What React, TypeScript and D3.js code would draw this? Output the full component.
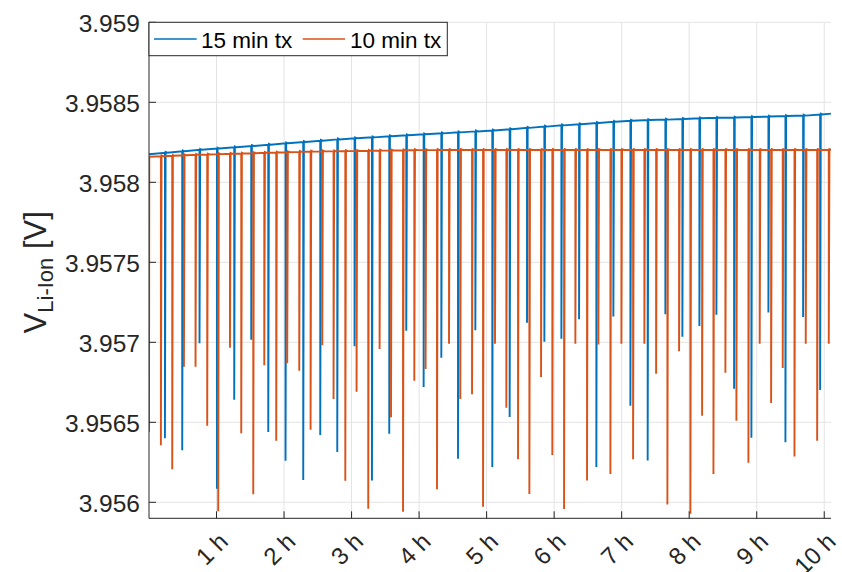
import React from "react";
import * as d3 from "d3";

// ---------- data ----------
const xTickHours = [1, 2, 3, 4, 5, 6, 7, 8, 9, 10];
const xTickLabels = ["1 h", "2 h", "3 h", "4 h", "5 h", "6 h", "7 h", "8 h", "9 h", "10 h"];
const yTicks = [3.956, 3.9565, 3.957, 3.9575, 3.958, 3.9585, 3.959];
const yTickLabels = ["3.956", "3.9565", "3.957", "3.9575", "3.958", "3.9585", "3.959"];

const seriesNames = ["15 min tx", "10 min tx"];

// 15 min tx: spike times (h), baseline level before spike (V), spike minimum (V)
const blueTimes = [0.236, 0.492, 0.748, 1.006, 1.262, 1.514, 1.766, 2.022, 2.284, 2.536, 2.788, 3.044, 3.302, 3.558, 3.810, 4.067, 4.329, 4.576, 4.833, 5.084, 5.341, 5.598, 5.855, 6.107, 6.369, 6.625, 6.877, 7.129, 7.385, 7.647, 7.899, 8.151, 8.403, 8.665, 8.921, 9.173, 9.425, 9.687, 9.939];
const blueLevels = [3.958185, 3.958194, 3.958203, 3.958211, 3.958219, 3.958227, 3.958235, 3.958244, 3.958252, 3.95826, 3.958268, 3.958275, 3.958281, 3.958288, 3.958294, 3.9583, 3.958306, 3.958312, 3.958318, 3.958324, 3.958332, 3.95834, 3.958348, 3.958356, 3.958363, 3.958371, 3.958378, 3.958385, 3.958389, 3.958392, 3.958396, 3.9584, 3.958403, 3.958405, 3.958408, 3.958411, 3.958414, 3.958417, 3.958424];
const blueMins = [3.9564, 3.956325, 3.956994, 3.956085, 3.956641, 3.957016, 3.956439, 3.95626, 3.956139, 3.956421, 3.956314, 3.956975, 3.956137, 3.956429, 3.957072, 3.956721, 3.956904, 3.956272, 3.957075, 3.956221, 3.956533, 3.957122, 3.957004, 3.957022, 3.957144, 3.956221, 3.957162, 3.956604, 3.956262, 3.957175, 3.957035, 3.957102, 3.957172, 3.95671, 3.956404, 3.957187, 3.956375, 3.957158, 3.956702];
const blueStart = 3.958175;
const blueEnd = 3.958429;

// 10 min tx
const orangeTimes = [0.176, 0.344, 0.517, 0.689, 0.862, 1.025, 1.199, 1.366, 1.544, 1.707, 1.884, 2.047, 2.225, 2.393, 2.566, 2.733, 2.907, 3.074, 3.247, 3.415, 3.584, 3.762, 3.929, 4.096, 4.265, 4.443, 4.610, 4.784, 4.947, 5.124, 5.292, 5.465, 5.633, 5.806, 5.973, 6.147, 6.314, 6.487, 6.655, 6.833, 6.996, 7.169, 7.336, 7.510, 7.677, 7.850, 8.018, 8.191, 8.359, 8.536, 8.699, 8.877, 9.044, 9.213, 9.385, 9.559, 9.726, 9.895, 10.067];
const orangeLevels = [3.958163, 3.958166, 3.958169, 3.958172, 3.958174, 3.958176, 3.958178, 3.95818, 3.958182, 3.958184, 3.958186, 3.958188, 3.95819, 3.958192, 3.958193, 3.958194, 3.958195, 3.958196, 3.958197, 3.958198, 3.958199, 3.9582, 3.958201, 3.958201, 3.958202, 3.958202, 3.958202, 3.958202, 3.958202, 3.958202, 3.958202, 3.958202, 3.958202, 3.958202, 3.958202, 3.958202, 3.958202, 3.958202, 3.958202, 3.958202, 3.958202, 3.958202, 3.958202, 3.958202, 3.958202, 3.958202, 3.958202, 3.958202, 3.958202, 3.958202, 3.958202, 3.958202, 3.958202, 3.958202, 3.958202, 3.958202, 3.958202, 3.958202, 3.958202];
const orangeMins = [3.956356, 3.956206, 3.956847, 3.956847, 3.956479, 3.955944, 3.956966, 3.956431, 3.95605, 3.956856, 3.956385, 3.956869, 3.956822, 3.956454, 3.956981, 3.956646, 3.956135, 3.956691, 3.95596, 3.956958, 3.956531, 3.955941, 3.95676, 3.956833, 3.956081, 3.956991, 3.956646, 3.956675, 3.955972, 3.956991, 3.956591, 3.956269, 3.956052, 3.956783, 3.956296, 3.955958, 3.956991, 3.956137, 3.956987, 3.956177, 3.956991, 3.956269, 3.956991, 3.956804, 3.955987, 3.956944, 3.955929, 3.956541, 3.956177, 3.95681, 3.95651, 3.956247, 3.956991, 3.956621, 3.956839, 3.956287, 3.956991, 3.956385, 3.956991];
const orangeStartMin = 3.956441;
const orangeStart = 3.95816;
const orangeEnd = 3.958202;

// small recovery overshoot right after each transmission (V)
const overshoot = 0.000005;

const xDomain = [0, 10.1];
const yDomain = [3.9559, 3.959];

// ---------- layout ----------
const W = 842, H = 572;
const L = 149, R = 831, T = 22.3, B = 518.3;
const BLUE = "#0072BD", ORANGE = "#D95319";
const AX = "#262626";
const FONT = "'Liberation Sans', Arial, Helvetica, sans-serif";

type P = [number, number];

function build(times: number[], levels: number[], mins: number[], start: P[], endT: number, endV: number): P[] {
  const pts: P[] = [...start];
  times.forEach((t, i) => {
    pts.push([t, levels[i]]);
    pts.push([t, mins[i]]);
    pts.push([t + 0.01, levels[i] + overshoot]);
    pts.push([t + 0.035, levels[i]]);
  });
  pts.push([endT, endV]);
  return pts;
}

export default function App() {
  const x = d3.scaleLinear().domain(xDomain).range([L, R]);
  const y = d3.scaleLinear().domain(yDomain).range([B, T]);
  const line = d3.line<P>().x(d => x(d[0])).y(d => y(d[1]));

  const bluePts = build(blueTimes, blueLevels, blueMins, [[0, blueStart]], xDomain[1], blueEnd);
  const orangePts = build(orangeTimes, orangeLevels, orangeMins, [[0, orangeStartMin], [0.004, orangeStart]], xDomain[1], orangeEnd);

  const gridColor = "#e3e3e3";

  return (
    <svg width={W} height={H} style={{ position: "absolute", left: 0, top: 0, background: "#fff" }} fontFamily={FONT}>
      <rect x={0} y={0} width={W} height={H} fill="#fff" />
      <defs>
        <clipPath id="plot">
          <rect x={L} y={T - 2} width={R - L} height={B - T + 2} />
        </clipPath>
      </defs>
      {/* grid */}
      <g stroke={gridColor} strokeWidth={1}>
        {xTickHours.map(h => (
          <line key={"gx" + h} x1={x(h)} x2={x(h)} y1={T} y2={B} />
        ))}
        {yTicks.map(v => (
          <line key={"gy" + v} x1={L} x2={R} y1={y(v)} y2={y(v)} />
        ))}
      </g>
      {/* series */}
      <g clipPath="url(#plot)" fill="none" strokeWidth={1.9} strokeLinejoin="miter">
        <path d={line(bluePts) || ""} stroke={BLUE} />
        <path d={line(orangePts) || ""} stroke={ORANGE} />
      </g>
      {/* axes */}
      <g stroke={AX} strokeWidth={1}>
        <line x1={L} x2={L} y1={T} y2={B} />
        <line x1={L} x2={R} y1={B} y2={B} />
        {yTicks.map(v => (
          <line key={"ty" + v} x1={L} x2={L + 7} y1={y(v)} y2={y(v)} />
        ))}
        {xTickHours.map(h => (
          <line key={"tx" + h} x1={x(h)} x2={x(h)} y1={B} y2={B - 7} />
        ))}
      </g>
      {/* y tick labels */}
      <g fill={AX} fontSize={24.5} textAnchor="end">
        {yTicks.map((v, i) => (
          <text key={"ly" + v} x={L - 9} y={y(v) + 1.5} dominantBaseline="central">{yTickLabels[i]}</text>
        ))}
      </g>
      {/* x tick labels */}
      <g fill={AX} fontSize={24} textAnchor="end">
        {xTickHours.map((h, i) => (
          <text key={"lx" + h} dominantBaseline="central" transform={`translate(${x(h) + 7},537) rotate(-45)`}>{xTickLabels[i]}</text>
        ))}
      </g>
      {/* y label */}
      <text transform={`translate(46,${(T + B) / 2 + 2}) rotate(-90)`} textAnchor="middle" fill={AX} fontSize={31}>
        V<tspan fontSize={22} dy={7}>Li-Ion</tspan><tspan dy={-7}> [V]</tspan>
      </text>
      {/* legend */}
      <g>
        <rect x={L} y={T} width={298.3} height={33.4} fill="#fff" stroke={AX} strokeWidth={1} />
        <line x1={154} x2={196.7} y1={39} y2={39} stroke={BLUE} strokeWidth={1.5} />
        <text x={201} y={40} dominantBaseline="central" fontSize={22.5} fill="#000">{seriesNames[0]}</text>
        <line x1={302.7} x2={345} y1={39} y2={39} stroke={ORANGE} strokeWidth={1.5} />
        <text x={350} y={40} dominantBaseline="central" fontSize={22.5} fill="#000">{seriesNames[1]}</text>
      </g>
    </svg>
  );
}
